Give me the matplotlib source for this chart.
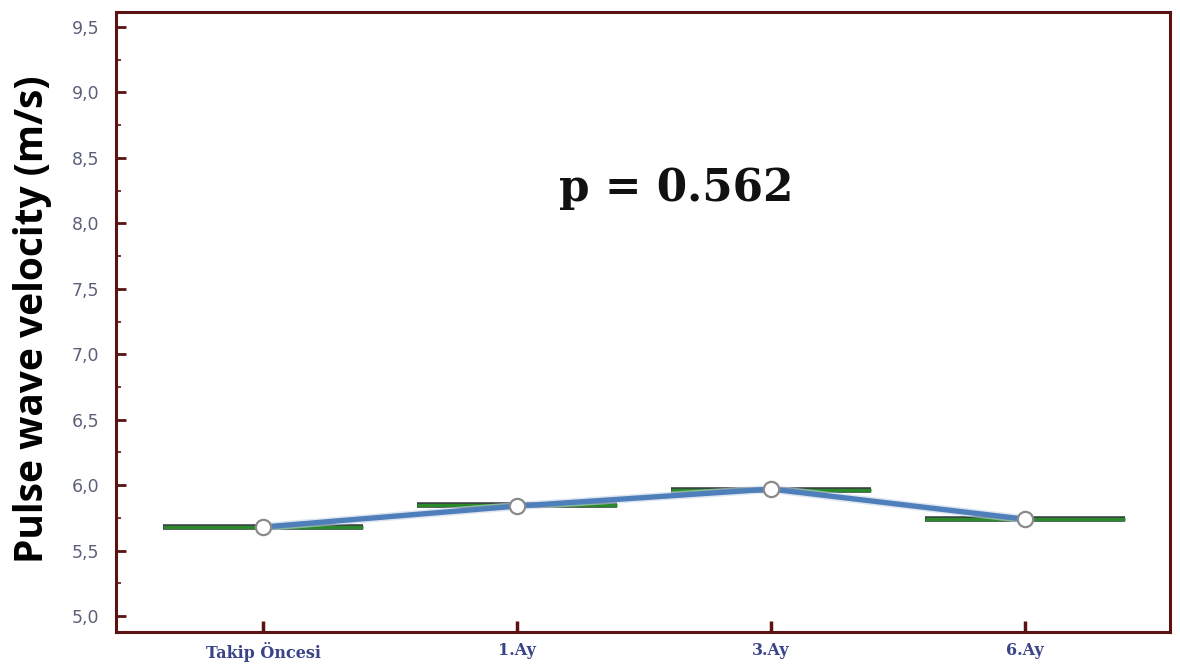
import matplotlib
matplotlib.use("Agg")
import matplotlib.pyplot as plt
from matplotlib.ticker import MultipleLocator, FixedLocator
import matplotlib.patheffects as pe

categories = ["Takip Öncesi", "1.Ay", "3.Ay", "6.Ay"]
means = [5.68, 5.84, 5.97, 5.74]
group_lines = [5.68, 5.848, 5.963, 5.741]
p_text = "p = 0.562"
y_label = "Pulse wave velocity (m/s)"
y_ticks = [5.0, 5.5, 6.0, 6.5, 7.0, 7.5, 8.0, 8.5, 9.0, 9.5]
y_ticklabels = ["5,0", "5,5", "6,0", "6,5", "7,0", "7,5", "8,0", "8,5", "9,0", "9,5"]

fig = plt.figure(figsize=(11.8, 6.65), dpi=100)
ax = fig.add_axes([116/1180, 1-632/665, (1170-116)/1180, (632-12)/665])

spine_col = "#5a1212"
x = list(range(len(categories)))

for xi, v in zip(x, group_lines):
    ax.plot([xi-0.394, xi+0.394], [v, v], color="#2a8a2a", lw=2.4,
            solid_capstyle="butt", zorder=2,
            path_effects=[pe.Stroke(linewidth=4, foreground="#353c42"), pe.Normal()])

ax.plot(x, means, color="#4f7fba", lw=3.8, zorder=3,
        path_effects=[pe.Stroke(linewidth=6, foreground="#c9d6e6", alpha=0.6), pe.Normal()])
ax.plot(x, means, linestyle="none", marker="o", ms=11, mfc="white",
        mec="#8a8a8a", mew=1.6, zorder=4)

ax.set_xlim(-0.579, 3.571)
ax.set_ylim(4.878, 9.615)

ax.yaxis.set_major_locator(FixedLocator(y_ticks))
ax.yaxis.set_minor_locator(MultipleLocator(0.25))
ax.set_yticklabels(y_ticklabels)
ax.set_xticks(x)
ax.set_xticklabels(categories)

for s in ax.spines.values():
    s.set_color(spine_col)
    s.set_linewidth(2.2)

ax.tick_params(axis="y", which="major", direction="in", length=7, width=2,
               color=spine_col, labelsize=12.5, labelcolor="#5c6078", pad=12)
ax.tick_params(axis="y", which="minor", direction="in", length=3.5, width=1.2,
               color=spine_col)
ax.tick_params(axis="x", which="major", direction="in", length=8, width=2.5,
               color=spine_col, labelsize=11.5, labelcolor="#3a4488", pad=7)
for lab in ax.get_yticklabels():
    lab.set_family("DejaVu Sans")
for lab in ax.get_xticklabels():
    lab.set_family("DejaVu Serif")
    lab.set_fontweight("bold")

ax.set_ylabel(y_label, fontsize=28, fontweight="bold", family="Open Sans",
              color="black")
ax.yaxis.set_label_coords(52/1180, 1-319/665, transform=fig.transFigure)

ax.text(676/1180, 1-188/665, p_text, transform=fig.transFigure, ha="center",
        va="center", fontsize=31.5, fontweight="bold", family="DejaVu Serif",
        color="#111111")

fig.savefig("out.png", dpi=100)
